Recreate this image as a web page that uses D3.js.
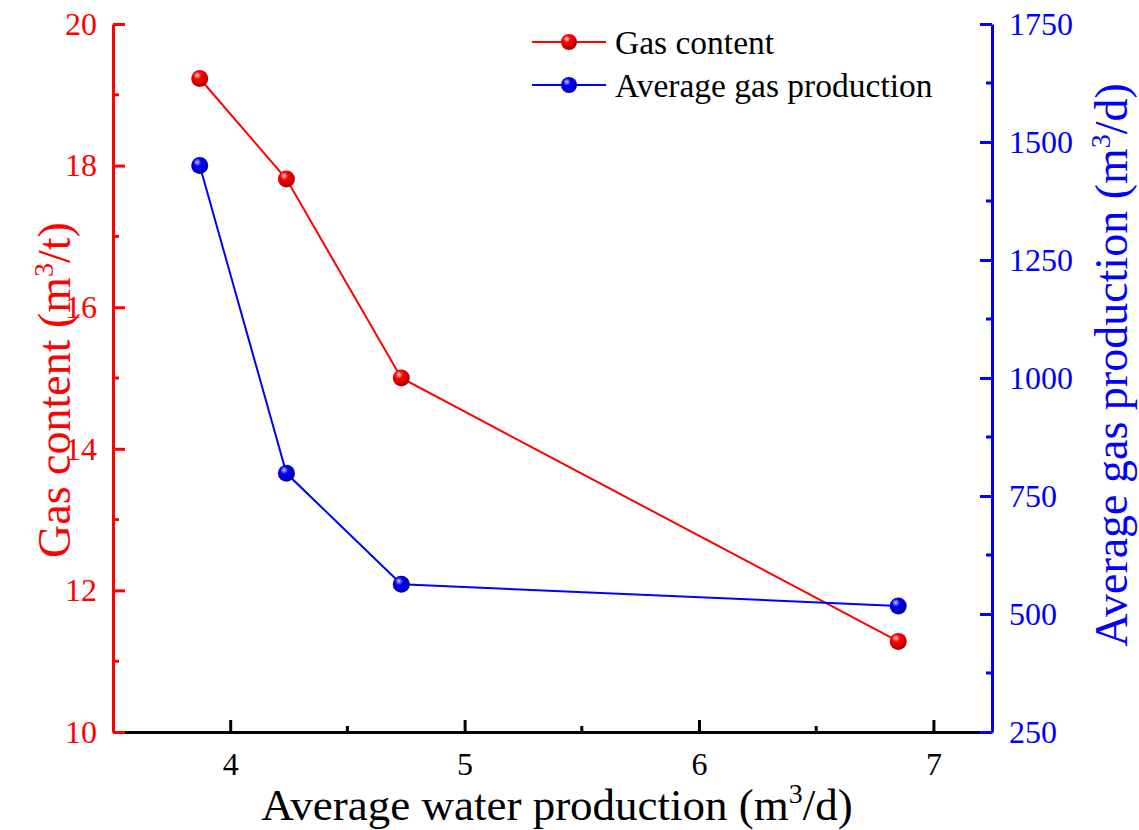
<!DOCTYPE html>
<html>
<head>
<meta charset="utf-8">
<script src="https://cdn.jsdelivr.net/npm/d3@7"></script>
<style>
  body { margin: 0; background: #fff; }
  svg text { font-family: "Liberation Serif", "Times New Roman", serif; }
</style>
</head>
<body>
<div id="chart"></div>
<script>
var waterProduction = [3.87, 4.24, 4.73, 6.85];
var gasContent = [19.23, 17.81, 15.0, 11.28];
var avgGasProduction = [1450, 798, 563, 517];
var leftTicks = [10, 12, 14, 16, 18, 20];
var rightTicks = [250, 500, 750, 1000, 1250, 1500, 1750];
var xTicks = [4, 5, 6, 7];

var serif = "'Liberation Serif', 'Times New Roman', serif";
var margin = { top: 24, right: 147, bottom: 98, left: 113 };
var width = 1139 - margin.left - margin.right;
var height = 830 - margin.top - margin.bottom;

var svg = d3.select("#chart")
    .append("svg")
    .attr("width", 1139)
    .attr("height", 830);

var defs = svg.append("defs");
function sphere(id, base, light, dark) {
    var g = defs.append("radialGradient")
        .attr("id", id)
        .attr("cx", "40%").attr("cy", "35%").attr("r", "65%")
        .attr("fx", "35%").attr("fy", "30%");
    g.append("stop").attr("offset", "0%").attr("stop-color", light);
    g.append("stop").attr("offset", "35%").attr("stop-color", base);
    g.append("stop").attr("offset", "100%").attr("stop-color", dark);
}
sphere("redBall", "#ff0000", "#ffd0d0", "#b00000");
sphere("blueBall", "#0000ff", "#d0d0ff", "#0000a0");

var g = svg.append("g")
    .attr("transform", "translate(" + margin.left + "," + margin.top + ")");

var x = d3.scaleLinear().domain([3.5, 7.25]).range([0, width]);
var yL = d3.scaleLinear().domain([10, 20]).range([height, 0]);
var yR = d3.scaleLinear().domain([250, 1750]).range([height, 0]);

function styleAxis(sel, color) {
    sel.attr("font-family", serif).attr("font-size", 32);
    sel.select(".domain").attr("stroke", color).attr("stroke-width", 3);
    sel.selectAll(".tick line").attr("stroke", color).attr("stroke-width", 3);
    sel.selectAll(".tick text")
        .attr("fill", color)
        .style("font-family", serif)
        .style("font-size", "32px");
}

function minorTicks(sel, scale, values, orient, color) {
    sel.selectAll(".minor")
        .data(values)
        .enter()
        .append("line")
        .attr("stroke", color)
        .attr("stroke-width", 3)
        .attr("x1", function(d) { return orient === "x" ? scale(d) : 0; })
        .attr("x2", function(d) { return orient === "x" ? scale(d) : (orient === "left" ? 6 : -6); })
        .attr("y1", function(d) { return orient === "x" ? 0 : scale(d); })
        .attr("y2", function(d) { return orient === "x" ? -6 : scale(d); });
}

// bottom axis
var xAxis = g.append("g")
    .attr("transform", "translate(0," + height + ")")
    .call(d3.axisBottom(x).tickValues(xTicks).tickSize(-12).tickSizeOuter(0).tickPadding(20).tickFormat(d3.format("d")));
styleAxis(xAxis, "#000");
minorTicks(xAxis, x, [4.5, 5.5, 6.5], "x", "#000");

// left axis
var leftAxis = g.append("g")
    .call(d3.axisLeft(yL).tickValues(leftTicks).tickSize(-12).tickSizeOuter(0).tickPadding(16));
styleAxis(leftAxis, "#ff0000");
minorTicks(leftAxis, yL, [11, 13, 15, 17, 19], "left", "#ff0000");

// right axis
var rightAxis = g.append("g")
    .attr("transform", "translate(" + width + ",0)")
    .call(d3.axisRight(yR).tickValues(rightTicks).tickSize(-12).tickSizeOuter(0).tickPadding(17).tickFormat(d3.format("d")));
styleAxis(rightAxis, "#0000ff");
minorTicks(rightAxis, yR, [375, 625, 875, 1125, 1375, 1625], "right", "#0000ff");

// lines
var redData = waterProduction.map(function(d, i) { return { x: d, y: gasContent[i] }; });
var blueData = waterProduction.map(function(d, i) { return { x: d, y: avgGasProduction[i] }; });

g.append("path")
    .datum(redData)
    .attr("fill", "none")
    .attr("stroke", "#ff0000")
    .attr("stroke-width", 2)
    .attr("d", d3.line().x(function(d) { return x(d.x); }).y(function(d) { return yL(d.y); }));

g.append("path")
    .datum(blueData)
    .attr("fill", "none")
    .attr("stroke", "#0000ff")
    .attr("stroke-width", 2)
    .attr("d", d3.line().x(function(d) { return x(d.x); }).y(function(d) { return yR(d.y); }));

g.selectAll(".redPt")
    .data(redData)
    .enter()
    .append("circle")
    .attr("cx", function(d) { return x(d.x); })
    .attr("cy", function(d) { return yL(d.y); })
    .attr("r", 8.5)
    .attr("fill", "url(#redBall)");

g.selectAll(".bluePt")
    .data(blueData)
    .enter()
    .append("circle")
    .attr("cx", function(d) { return x(d.x); })
    .attr("cy", function(d) { return yR(d.y); })
    .attr("r", 8.5)
    .attr("fill", "url(#blueBall)");

// axis titles
function titleWithSup(sel, before, after) {
    sel.append("tspan").text(before);
    sel.append("tspan").attr("dy", -17).style("font-size", "28px").text("3");
    sel.append("tspan").attr("dy", 17).text(after);
}

var lt = svg.append("text")
    .attr("transform", "translate(70," + (margin.top + height / 2 + 12) + ") rotate(-90)")
    .attr("text-anchor", "middle")
    .attr("fill", "#ff0000")
    .style("font-size", "46px");
titleWithSup(lt, "Gas content (m", "/t)");

var rt = svg.append("text")
    .attr("transform", "translate(1127," + (margin.top + height / 2 - 13) + ") rotate(-90)")
    .attr("text-anchor", "middle")
    .attr("fill", "#0000ff")
    .style("font-size", "46px");
titleWithSup(rt, "Average gas production (m", "/d)");

var bt = svg.append("text")
    .attr("x", 557)
    .attr("y", 820)
    .attr("text-anchor", "middle")
    .attr("fill", "#000")
    .style("font-size", "45px");
titleWithSup(bt, "Average water production (m", "/d)");

// legend
var legend = svg.append("g").attr("transform", "translate(532,42)");
var legendItems = [
    { label: "Gas content", color: "#ff0000", ball: "url(#redBall)" },
    { label: "Average gas production", color: "#0000ff", ball: "url(#blueBall)" }
];
var li = legend.selectAll(".item")
    .data(legendItems)
    .enter()
    .append("g")
    .attr("transform", function(d, i) { return "translate(0," + i * 43 + ")"; });
li.append("line")
    .attr("x1", 0).attr("x2", 74)
    .attr("stroke", function(d) { return d.color; })
    .attr("stroke-width", 2);
li.append("circle")
    .attr("cx", 37).attr("r", 8)
    .attr("fill", function(d) { return d.ball; });
li.append("text")
    .attr("x", 83)
    .attr("dy", "0.35em")
    .style("font-size", "33.5px")
    .attr("fill", "#000")
    .text(function(d) { return d.label; });
</script>
</body>
</html>
